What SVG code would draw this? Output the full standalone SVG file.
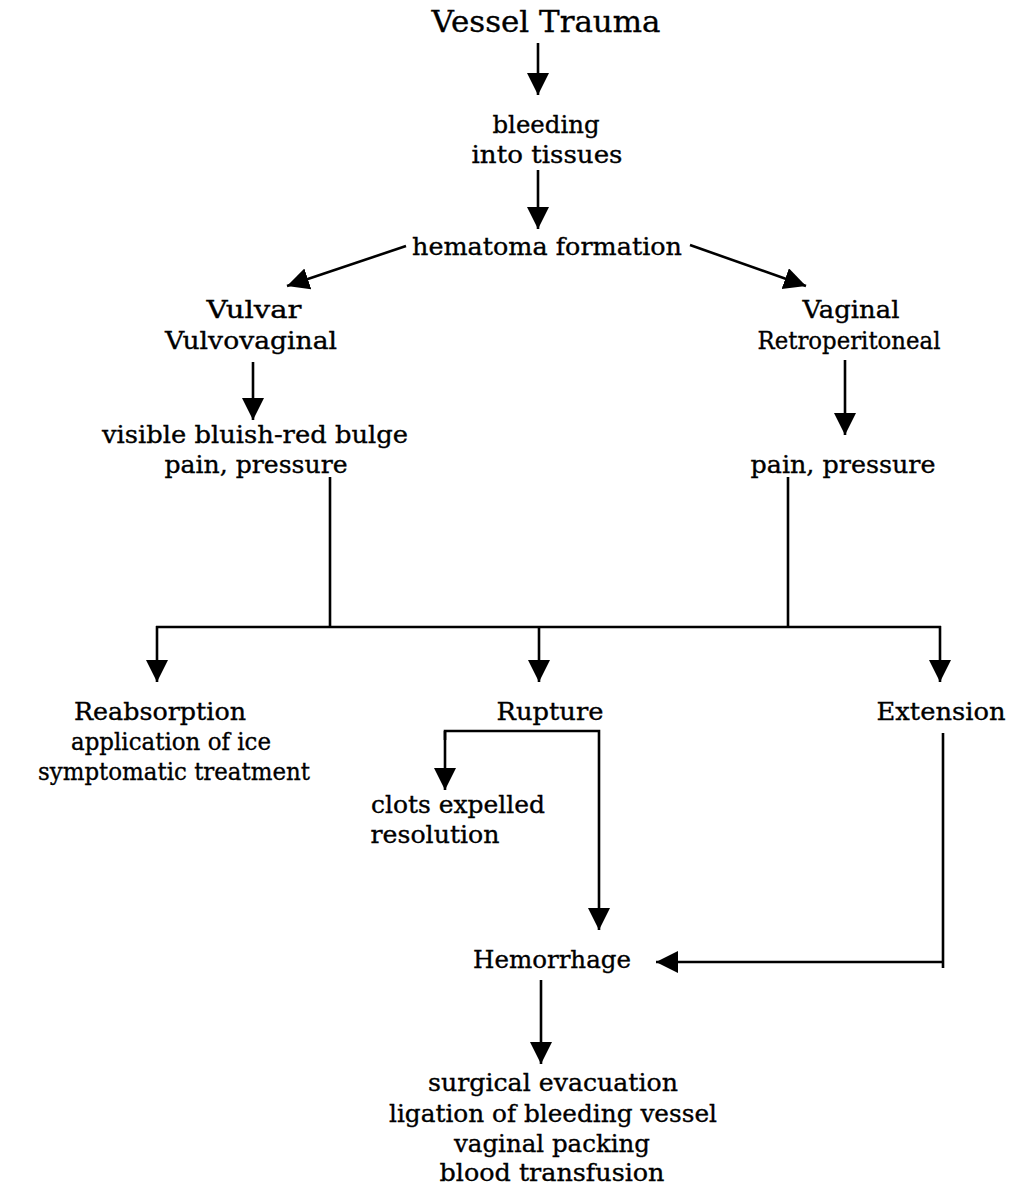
<svg xmlns="http://www.w3.org/2000/svg" width="1013" height="1188" viewBox="0 0 1013 1188">
  <style>
    text { font-family: "DejaVu Serif", "Liberation Serif", serif; font-size: 25px; fill: #000; stroke: #000; stroke-width: 0.35; text-anchor: middle; }
    .title { font-size: 30px; }
    .conn line, .conn polyline, .conn path { stroke: #000; stroke-width: 2.6; fill: none; }
  </style>
  <defs>
    <marker id="head" markerUnits="userSpaceOnUse" markerWidth="24" markerHeight="24" refX="22" refY="11" orient="auto">
      <path d="M0,0 L22,11 L0,22 z" fill="#000"/>
    </marker>
  </defs>
  <rect width="1013" height="1188" fill="#fff"/>

  <g class="conn" id="connectors">
    <line x1="538" y1="43" x2="538" y2="95" marker-end="url(#head)"/>
    <line x1="538" y1="170" x2="538" y2="229" marker-end="url(#head)"/>
    <line x1="406" y1="246" x2="287" y2="286" marker-end="url(#head)"/>
    <line x1="690" y1="245" x2="806" y2="286" marker-end="url(#head)"/>
    <line x1="253" y1="362" x2="253" y2="420" marker-end="url(#head)"/>
    <line x1="845" y1="360" x2="845" y2="435" marker-end="url(#head)"/>
    <line x1="330" y1="477" x2="330" y2="627"/>
    <line x1="788" y1="477" x2="788" y2="627"/>
    <line x1="156" y1="627" x2="941" y2="627"/>
    <line x1="157" y1="626" x2="157" y2="682" marker-end="url(#head)"/>
    <line x1="539" y1="626" x2="539" y2="682" marker-end="url(#head)"/>
    <line x1="940" y1="626" x2="940" y2="682" marker-end="url(#head)"/>
    <polyline points="445,740 445,731 599,731 599,930" marker-end="url(#head)"/>
    <line x1="445" y1="731" x2="445" y2="790" marker-end="url(#head)"/>
    <line x1="943" y1="733" x2="943" y2="968"/>
    <line x1="943" y1="962" x2="656" y2="962" marker-end="url(#head)"/>
    <line x1="541" y1="980" x2="541" y2="1064" marker-end="url(#head)"/>
  </g>

  <g id="vessel-trauma"><text class="title" x="546" y="32" textLength="229" lengthAdjust="spacingAndGlyphs">Vessel Trauma</text></g>
  <g id="bleeding">
    <text x="546" y="133" textLength="107" lengthAdjust="spacingAndGlyphs">bleeding</text>
    <text x="547" y="163" textLength="151" lengthAdjust="spacingAndGlyphs">into tissues</text>
  </g>
  <g id="hematoma"><text x="547" y="255" textLength="270" lengthAdjust="spacingAndGlyphs">hematoma formation</text></g>
  <g id="vulvar">
    <text x="254" y="318" textLength="95" lengthAdjust="spacingAndGlyphs">Vulvar</text>
    <text x="251" y="349" textLength="172" lengthAdjust="spacingAndGlyphs">Vulvovaginal</text>
  </g>
  <g id="vaginal">
    <text x="851" y="318" textLength="97" lengthAdjust="spacingAndGlyphs">Vaginal</text>
    <text x="849" y="349" textLength="183" lengthAdjust="spacingAndGlyphs">Retroperitoneal</text>
  </g>
  <g id="vulvar-signs">
    <text x="255" y="443" textLength="306" lengthAdjust="spacingAndGlyphs">visible bluish-red bulge</text>
    <text x="256" y="473" textLength="183" lengthAdjust="spacingAndGlyphs">pain, pressure</text>
  </g>
  <g id="vaginal-signs"><text x="843" y="473" textLength="185" lengthAdjust="spacingAndGlyphs">pain, pressure</text></g>
  <g id="reabsorption">
    <text x="160" y="720" textLength="172" lengthAdjust="spacingAndGlyphs">Reabsorption</text>
    <text x="171" y="750" textLength="200" lengthAdjust="spacingAndGlyphs">application of ice</text>
    <text x="174" y="780" textLength="272" lengthAdjust="spacingAndGlyphs">symptomatic treatment</text>
  </g>
  <g id="rupture"><text x="550" y="720" textLength="107" lengthAdjust="spacingAndGlyphs">Rupture</text></g>
  <g id="extension"><text x="941" y="720" textLength="129" lengthAdjust="spacingAndGlyphs">Extension</text></g>
  <g id="clots">
    <text x="458" y="813" textLength="174" lengthAdjust="spacingAndGlyphs">clots expelled</text>
    <text x="435" y="843" textLength="129" lengthAdjust="spacingAndGlyphs">resolution</text>
  </g>
  <g id="hemorrhage"><text x="552" y="968" textLength="158" lengthAdjust="spacingAndGlyphs">Hemorrhage</text></g>
  <g id="treatment">
    <text x="553" y="1091" textLength="250" lengthAdjust="spacingAndGlyphs">surgical evacuation</text>
    <text x="553" y="1122" textLength="328" lengthAdjust="spacingAndGlyphs">ligation of bleeding vessel</text>
    <text x="552" y="1152" textLength="196" lengthAdjust="spacingAndGlyphs">vaginal packing</text>
    <text x="552" y="1181" textLength="225" lengthAdjust="spacingAndGlyphs">blood transfusion</text>
  </g>
</svg>
